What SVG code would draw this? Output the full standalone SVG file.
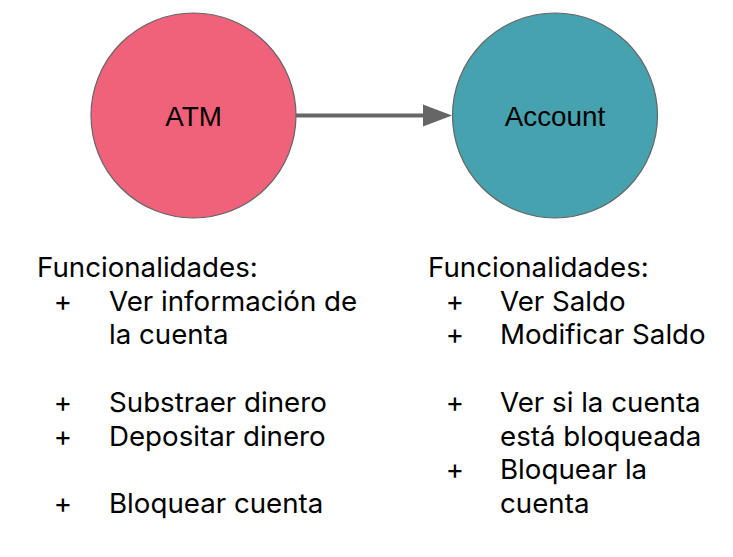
<svg xmlns="http://www.w3.org/2000/svg" width="733" height="557" viewBox="0 0 733 557">
<style>
.node{stroke:#666666;stroke-width:1.2}
.lbl{font-family:"Liberation Sans",Arial,sans-serif;font-size:27.8px;fill:#000;text-anchor:middle}
.txt{font-family:Inter,"Noto Sans",sans-serif;font-size:27.7px;fill:#000}
.plus{text-anchor:middle}
</style>
<rect width="733" height="557" fill="#ffffff"/>
<g id="connectors">
<line x1="296" y1="115.5" x2="424" y2="115.5" stroke="#666666" stroke-width="4"/>
<polygon points="423,104.5 452,115.5 423,126.5" fill="#666666"/>
</g>
<g id="atm">
<circle class="node" cx="193.5" cy="115.5" r="102.5" fill="#F0617A"/>
<text class="lbl" x="193.5" y="125.5">ATM</text>
</g>
<g id="account">
<circle class="node" cx="555" cy="115.5" r="102.5" fill="#46A2AE"/>
<text class="lbl" x="555" y="125.5">Account</text>
</g>
<g id="atm-functions" class="txt">
<text x="37" y="277">Funcionalidades:</text>
<text class="plus" x="63" y="310.7">+</text>
<text x="109" y="310.7">Ver información de</text>
<text x="109" y="344.4">la cuenta</text>
<text class="plus" x="63" y="411.8">+</text>
<text x="109" y="411.8">Substraer dinero</text>
<text class="plus" x="63" y="445.5">+</text>
<text x="109" y="445.5">Depositar dinero</text>
<text class="plus" x="63" y="512.9">+</text>
<text x="109" y="512.9">Bloquear cuenta</text>
</g>
<g id="account-functions" class="txt">
<text x="428" y="277">Funcionalidades:</text>
<text class="plus" x="455" y="310.7">+</text>
<text x="500" y="310.7">Ver Saldo</text>
<text class="plus" x="455" y="344.4">+</text>
<text x="500" y="344.4">Modificar Saldo</text>
<text class="plus" x="455" y="411.8">+</text>
<text x="500" y="411.8">Ver si la cuenta</text>
<text x="500" y="445.5">está bloqueada</text>
<text class="plus" x="455" y="479.2">+</text>
<text x="500" y="479.2">Bloquear la</text>
<text x="500" y="512.9">cuenta</text>
</g>
</svg>
